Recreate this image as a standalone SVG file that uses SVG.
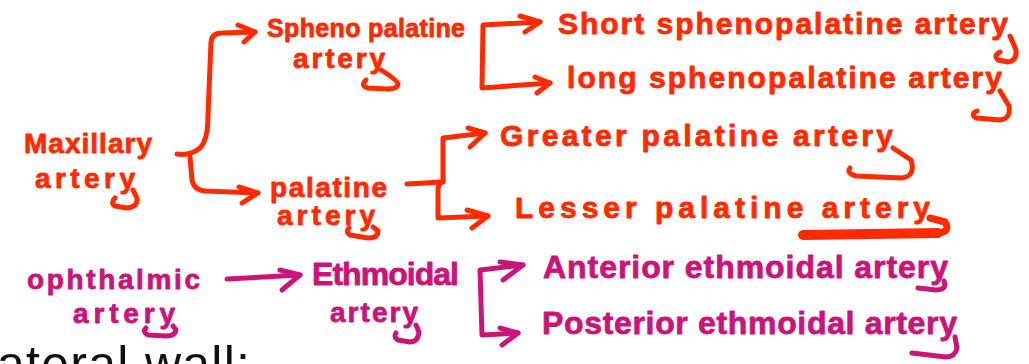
<svg xmlns="http://www.w3.org/2000/svg" width="1029" height="364" viewBox="0 0 1029 364">
  <style>
    .ink { font-family: "Liberation Sans", Arial, sans-serif; font-weight: bold; stroke-linejoin: round; }
    .red { fill: #ff2a00; stroke: #ff2a00; stroke-width: 0.8; }
    .mag { fill: #c9157a; stroke: #c9157a; stroke-width: 0.8; }
    .s25 { font-size: 25px; }
    .s28 { font-size: 28px; }
    .s30 { font-size: 30px; }
    .s32 { font-size: 32px; }
    .line { fill: none; stroke-width: 5; stroke-linecap: round; stroke-linejoin: round; }
    .lr { stroke: #ff2a00; }
    .lm { stroke: #c9157a; }
    .tail { fill: none; stroke-width: 5; stroke-linecap: round; stroke-linejoin: round; }
  </style>

  <rect width="1029" height="364" fill="#ffffff"/>

  <!-- maxillary branch -->
  <g id="maxillary">
    <text class="ink red s28" x="24" y="153" textLength="128" lengthAdjust="spacing">Maxillary</text>
    <text class="ink red s28" x="35" y="188" textLength="100" lengthAdjust="spacing">artery</text>
    <path class="tail lr" d="M133,190 L137,198 Q138,207 127,208 L115,206 Q110,203 115,198"/>
  </g>

  <g id="sphenopalatine">
    <text class="ink red s25" x="267" y="37" textLength="198" lengthAdjust="spacing">Spheno palatine</text>
    <text class="ink red s28" x="293" y="68" textLength="92" lengthAdjust="spacing">artery</text>
    <path class="tail lr" d="M381,70 Q397,80 398,84 Q398,89 386,89 L368,88 Q360,86 366,80"/>
  </g>

  <g id="short-sphenopalatine">
    <text class="ink red s30" x="558" y="34" textLength="450" lengthAdjust="spacing">Short sphenopalatine artery</text>
    <path class="tail lr" d="M1010,36 L1016,50 Q1017,61 1008,62 L998,60 Q993,56 1000,52"/>
  </g>

  <g id="long-sphenopalatine">
    <text class="ink red s30" x="567" y="88" textLength="435" lengthAdjust="spacing">long sphenopalatine artery</text>
    <path class="tail lr" d="M1000,91 L1009,106 Q1011,119 1000,120 L976,118 Q970,114 977,111"/>
  </g>

  <g id="palatine">
    <text class="ink red s28" x="270" y="197" textLength="117" lengthAdjust="spacing">palatine</text>
    <text class="ink red s28" x="277" y="225" textLength="98" lengthAdjust="spacing">artery</text>
    <path class="tail lr" d="M373,227 L378,231 Q378,238 368,238 L350,235 Q345,232 349,228"/>
  </g>

  <g id="greater-palatine">
    <text class="ink red s30" x="500" y="146" textLength="393" lengthAdjust="spacing">Greater palatine artery</text>
    <path class="tail lr" d="M893,148 L911,160 Q916,176 902,178 L856,176 Q846,173 850,168"/>
  </g>

  <g id="lesser-palatine">
    <text class="ink red s30" x="515" y="218" textLength="415" lengthAdjust="spacing">Lesser palatine artery</text>
    <path class="tail lr" d="M930,218 L945,222 Q951,232 938,233 L803,235" style="stroke-width:7"/>
    <path class="lr" d="M938,233 L803,235" style="fill:none;stroke-width:10;stroke-linecap:round"/>
  </g>

  <!-- ophthalmic branch -->
  <g id="ophthalmic">
    <text class="ink mag s28" x="27" y="289" textLength="173" lengthAdjust="spacing">ophthalmic</text>
    <text class="ink mag s28" x="73" y="323" textLength="102" lengthAdjust="spacing">artery</text>
    <path class="tail lm" d="M173,326 L176,330 Q175,336 166,336 L148,335 Q142,332 146,328"/>
  </g>

  <g id="ethmoidal">
    <text class="ink mag s32" x="312" y="285" textLength="147" lengthAdjust="spacing">Ethmoidal</text>
    <text class="ink mag s28" x="330" y="322" textLength="88" lengthAdjust="spacing">artery</text>
    <path class="tail lm" d="M416,325 L419,332 Q418,342 410,342 L398,340 Q393,337 396,333"/>
  </g>

  <g id="anterior-ethmoidal">
    <text class="ink mag s32" x="543" y="278" textLength="405" lengthAdjust="spacing">Anterior ethmoidal artery</text>
    <path class="tail lm" d="M944,281 L945,285 Q944,290 936,290 L918,288"/>
  </g>

  <g id="posterior-ethmoidal">
    <text class="ink mag s32" x="542" y="334" textLength="415" lengthAdjust="spacing">Posterior ethmoidal artery</text>
    <path class="tail lm" d="M955,337 L957,348 Q955,357 946,357 L912,353"/>
  </g>

  <!-- connectors -->
  <g id="connectors">
    <!-- maxillary to sphenopalatine / palatine -->
    <path class="line lr" d="M177,154 Q190,156 200,148 Q208,140 208,115 L211,42 Q212,33 222,33 L255,32"/>
    <path class="line lr" d="M238,25 L255,32 L244,42"/>
    <path class="line lr" d="M190,157 L192,180 Q194,190 205,191 L258,193"/>
    <path class="line lr" d="M239,187 L258,193 L242,203"/>

    <!-- sphenopalatine to short / long -->
    <path class="line lr" d="M540,22 L483,25 L482,88 L550,83"/>
    <path class="line lr" d="M520,16 L540,22 L525,32"/>
    <path class="line lr" d="M535,77 L550,83 L537,93"/>

    <!-- palatine to greater / lesser -->
    <path class="line lr" d="M407,184 L443,182 L443,138 L485,133"/>
    <path class="line lr" d="M468,128 L485,133 L470,147"/>
    <path class="line lr" d="M443,182 Q438,184 438,190 L438,218 L488,216"/>
    <path class="line lr" d="M467,210 L488,216 L472,228"/>

    <!-- ophthalmic to ethmoidal -->
    <path class="line lm" d="M227,279 L300,275"/>
    <path class="line lm" d="M280,270 L300,275 L282,290"/>

    <!-- ethmoidal to anterior / posterior -->
    <path class="line lm" d="M523,265 L480,270 L482,335 L518,333"/>
    <path class="line lm" d="M500,262 L523,265 L503,280"/>
    <path class="line lm" d="M500,328 L518,333 L502,345"/>
  </g>

  <!-- slide heading running off the lower edge -->
  <text x="-3" y="381" font-family="Liberation Sans, Arial, sans-serif" font-size="50" fill="#111111" textLength="253" lengthAdjust="spacing">ateral wall:</text>
</svg>
